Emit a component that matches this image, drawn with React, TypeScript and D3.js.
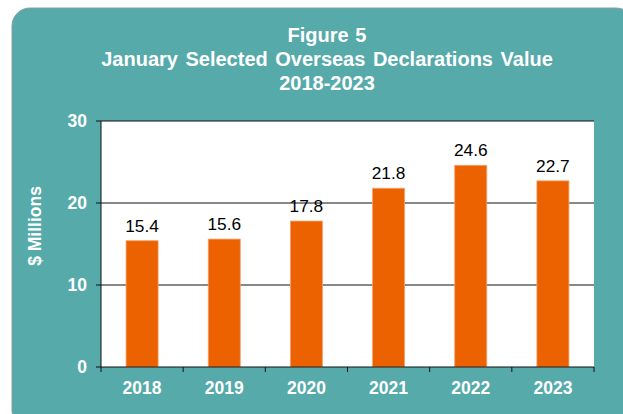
import React from "react";
import * as d3 from "d3";

const years = ["2018", "2019", "2020", "2021", "2022", "2023"];
const values = [15.4, 15.6, 17.8, 21.8, 24.6, 22.7];
const yTicks = [0, 10, 20, 30];
const titleLines = ["Figure 5", "January Selected Overseas Declarations Value", "2018-2023"];
const yTitle = "$ Millions";

const W = 623;
const H = 414;
const plot = { left: 101, right: 594, top: 121, bottom: 367 };
const FONT = "'Liberation Sans', Arial, sans-serif";
const TEAL = "#56AAAA";
const BAR = "#EC6200";

export default function App() {
  const x = d3.scaleBand<string>().domain(years).range([plot.left, plot.right]).paddingInner(0.61).paddingOuter(0.305);
  const y = d3.scaleLinear().domain([0, 30]).range([plot.bottom, plot.top]);
  const bounds = d3.range(years.length + 1).map((i) => plot.left + (i * (plot.right - plot.left)) / years.length);

  return (
    <svg width={W} height={H} style={{ position: "absolute", left: 0, top: 0 }} fontFamily={FONT}>
      <rect x={12} y={8} width={622} height={420} rx={18} ry={18} fill={TEAL} stroke="#8c9c9c" strokeWidth={1} />
      {titleLines.map((t, i) => (
        <text key={i} x={327} y={[42, 66, 90][i]} textAnchor="middle" fill="#fff" fontWeight="bold" fontSize={20} wordSpacing={i === 1 ? 2 : 1}>
          {t}
        </text>
      ))}
      <rect x={plot.left} y={plot.top} width={plot.right - plot.left} height={plot.bottom - plot.top} fill="#fff" />
      {yTicks.map((t) => (
        <g key={t}>
          {t > 0 && <line x1={plot.left} x2={plot.right} y1={y(t)} y2={y(t)} stroke="#111" strokeWidth={1} />}
          <line x1={plot.left - 5} x2={plot.left} y1={y(t)} y2={y(t)} stroke="#111" strokeWidth={1} />
          <text x={87} y={y(t)} dy="0.36em" textAnchor="end" fill="#fff" fontWeight="bold" fontSize={17.5}>
            {t}
          </text>
        </g>
      ))}
      {years.map((yr, i) => (
        <g key={yr}>
          <rect x={x(yr)} y={y(values[i])} width={x.bandwidth()} height={y(0) - y(values[i])} fill={BAR} stroke="#F4A36E" strokeWidth={0.8} />
          <text x={(x(yr) as number) + x.bandwidth() / 2} y={y(values[i]) - 9} textAnchor="middle" fill="#000" fontSize={17.3}>
            {values[i].toFixed(1)}
          </text>
          <text x={(x(yr) as number) + x.bandwidth() / 2} y={394} textAnchor="middle" fill="#fff" fontWeight="bold" fontSize={17.5}>
            {yr}
          </text>
        </g>
      ))}
      <line x1={plot.left} x2={plot.left} y1={plot.top} y2={plot.bottom} stroke="#111" strokeWidth={1} />
      <line x1={plot.left} x2={plot.right} y1={plot.bottom} y2={plot.bottom} stroke="#111" strokeWidth={1} />
      {bounds.map((b, i) => (
        <line key={i} x1={b} x2={b} y1={plot.bottom} y2={plot.bottom + 5} stroke="#111" strokeWidth={1} />
      ))}
      <text transform={`translate(41,226) rotate(-90)`} textAnchor="middle" fill="#fff" fontWeight="bold" fontSize={17.5}>
        {yTitle}
      </text>
    </svg>
  );
}
